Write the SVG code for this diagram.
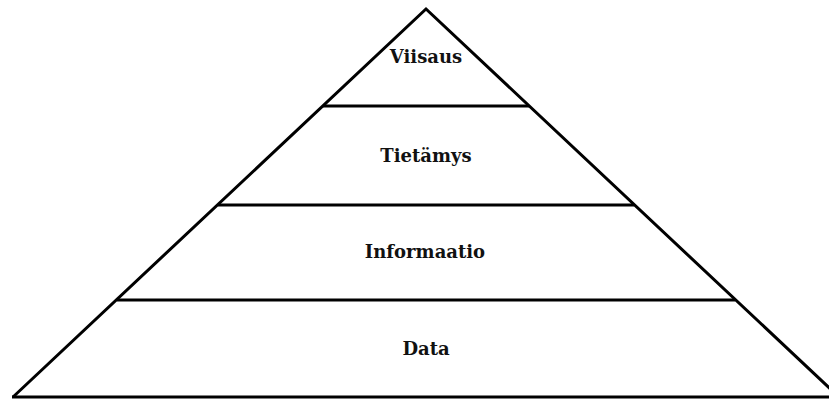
<svg xmlns="http://www.w3.org/2000/svg" width="829" height="399" viewBox="0 0 829 399">
  <style>
    .edge { fill: none; stroke: #000; stroke-width: 3; stroke-linejoin: miter; }
    .label { font-family: "DejaVu Serif", "Liberation Serif", serif; font-weight: bold; font-size: 18px; fill: #111; text-anchor: middle; }
  </style>
  <rect width="829" height="399" fill="#fff"/>
  <!-- outer pyramid outline -->
  <g id="outline">
    <polyline class="edge" points="13,397 426,9 839,397"/>
  </g>
  <!-- dividing lines between the levels -->
  <g id="connectors">
    <line class="edge" x1="323" y1="106" x2="529" y2="106"/>
    <line class="edge" x1="218" y1="205" x2="634" y2="205"/>
    <line class="edge" x1="117" y1="300" x2="735" y2="300"/>
    <line class="edge" x1="12" y1="397" x2="829" y2="397"/>
  </g>
  <g id="viisaus"><text class="label" x="426" y="63">Viisaus</text></g>
  <g id="tietamys"><text class="label" x="426" y="162">Tietämys</text></g>
  <g id="informaatio"><text class="label" x="425" y="258">Informaatio</text></g>
  <g id="data"><text class="label" x="426" y="355">Data</text></g>
</svg>
